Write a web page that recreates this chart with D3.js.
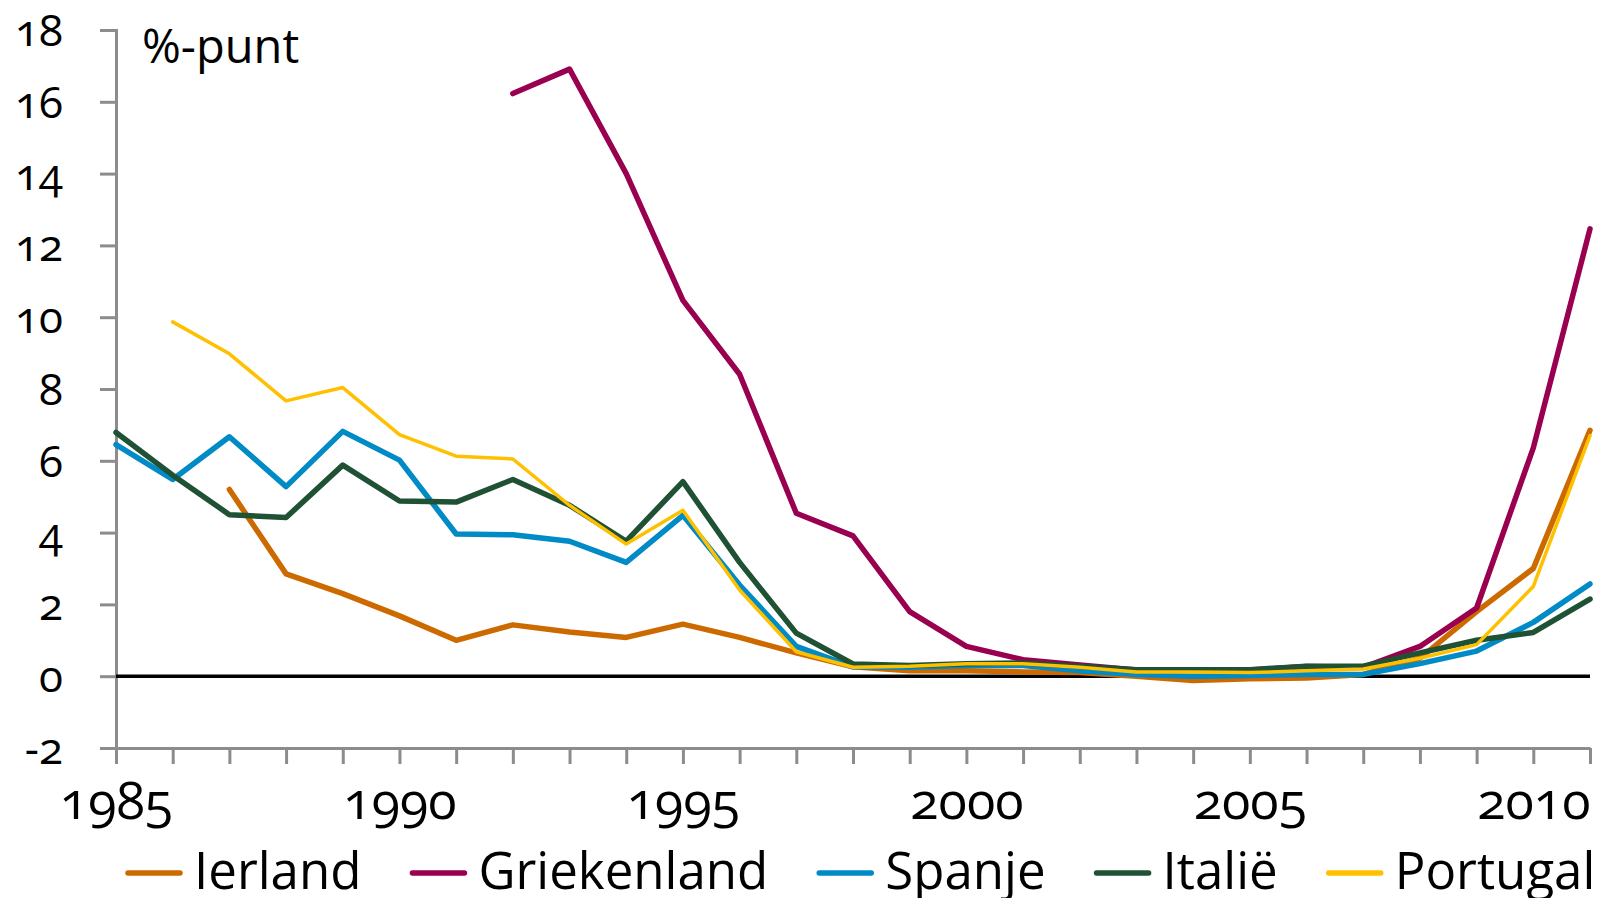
<!DOCTYPE html>
<html>
<head>
<meta charset="utf-8">
<script src="https://cdn.jsdelivr.net/npm/d3@7"></script>
<style>
	body { margin: 0; background: #fff; }
	svg text { font-family: "Open Sans", "Noto Sans", sans-serif; font-variant-numeric: oldstyle-nums; fill: #000; }
</style>
</head>
<body>
<div id="chart"></div>
<script>
const years = d3.range(1985, 2012);

// spreads in %-punt, null = no data
const ierland = [null, null, 5.2, 2.85, 2.3, 1.68, 1.0, 1.43, 1.23, 1.08, 1.45, 1.08, 0.65, 0.26, 0.15, 0.15, 0.12, 0.1, 0.0, -0.12, -0.07, -0.05, 0.05, 0.5, 1.8, 3.0, 6.85];
const griekenland = [null, null, null, null, null, null, null, 16.23, 16.91, 14.0, 10.47, 8.41, 4.54, 3.91, 1.8, 0.83, 0.46, 0.31, 0.17, 0.17, 0.17, 0.27, 0.25, 0.83, 1.9, 6.36, 12.46];
const spanje = [6.45, 5.48, 6.67, 5.28, 6.82, 6.02, 3.96, 3.94, 3.76, 3.17, 4.48, 2.54, 0.83, 0.26, 0.25, 0.3, 0.3, 0.15, 0.05, 0.0, 0.02, 0.05, 0.05, 0.35, 0.7, 1.5, 2.57];
const italie = [6.79, 5.6, 4.5, 4.42, 5.88, 4.88, 4.85, 5.48, 4.76, 3.76, 5.42, 3.17, 1.2, 0.34, 0.3, 0.35, 0.37, 0.28, 0.18, 0.18, 0.18, 0.28, 0.28, 0.65, 1.0, 1.22, 2.15];
const portugal = [null, 9.87, 8.98, 7.67, 8.04, 6.73, 6.13, 6.05, 4.76, 3.68, 4.62, 2.4, 0.68, 0.25, 0.28, 0.35, 0.35, 0.25, 0.12, 0.12, 0.1, 0.15, 0.2, 0.5, 0.88, 2.5, 6.7];

const seriesNames = ["Ierland", "Griekenland", "Spanje", "Italië", "Portugal"];
const seriesValues = [ierland, griekenland, spanje, italie, portugal];
const seriesColors = ["#cc6a00", "#99004f", "#008ac6", "#1f5134", "#ffc000"];
const seriesWidths = [5.5, 5.5, 5.5, 5.5, 3.5];

const yTicks = [-2, 0, 2, 4, 6, 8, 10, 12, 14, 16, 18];
const xLabels = [1985, 1990, 1995, 2000, 2005, 2010];
const unitLabel = "%-punt";

const width = 1604;
const height = 898;
const margin = { left: 116, right: 14, top: 30, bottom: 150 };

const svg = d3
	.select("#chart")
	.append("svg")
	.attr("width", width)
	.attr("height", height);

const x = d3.scaleLinear().domain([1985, 2011]).range([margin.left, width - margin.right]);
const y = d3.scaleLinear().domain([-2, 18]).range([height - margin.bottom, margin.top]);

// y axis
const yAxis = d3.axisLeft(y).tickValues(yTicks).tickSize(16).tickPadding(37).tickFormat(d => d < 0 ? "-" + Math.abs(d) : d);
const gy = svg.append("g").attr("transform", `translate(${margin.left},0)`).call(yAxis);
gy.select(".domain").attr("stroke", "#8c8c8c").attr("stroke-width", 3);
gy.selectAll(".tick line").attr("stroke", "#8c8c8c").attr("stroke-width", 3);
gy.selectAll(".tick text").style("font-size", "44px").attr("dy", "0.35em");

// x axis at -2
const xAxis = d3.axisBottom(x).tickValues(years).tickSize(16).tickSizeOuter(0).tickPadding(18)
	.tickFormat(d => xLabels.includes(d) ? d : "");
const gx = svg.append("g").attr("transform", `translate(0,${y(-2)})`).call(xAxis);
gx.select(".domain").attr("stroke", "#8c8c8c").attr("stroke-width", 3);
gx.selectAll(".tick line").attr("stroke", "#8c8c8c").attr("stroke-width", 3);
gx.selectAll(".tick text").style("font-size", "52px");

// zero line
svg.append("line")
	.attr("x1", x(1985)).attr("x2", x(2011))
	.attr("y1", y(0)).attr("y2", y(0))
	.attr("stroke", "#000").attr("stroke-width", 3.5);

svg.append("text")
	.attr("x", 142).attr("y", 63)
	.style("font-size", "47px")
	.text(unitLabel);

const line = d3.line()
	.defined(d => d.v !== null)
	.x(d => x(d.year))
	.y(d => y(d.v));

seriesValues.forEach((vals, i) => {
	svg.append("path")
		.datum(years.map((yr, j) => ({ year: yr, v: vals[j] })))
		.attr("fill", "none")
		.attr("stroke", seriesColors[i])
		.attr("stroke-width", seriesWidths[i])
		.attr("stroke-linejoin", "round")
		.attr("stroke-linecap", "round")
		.attr("d", line);
});

// legend
let lx = 128;
const ly = 873;
seriesNames.forEach((name, i) => {
	svg.append("line")
		.attr("x1", lx).attr("x2", lx + 52)
		.attr("y1", ly).attr("y2", ly)
		.attr("stroke", seriesColors[i])
		.attr("stroke-width", 5.5)
		.attr("stroke-linecap", "round");
	const t = svg.append("text")
		.attr("x", lx + 66).attr("y", 889)
		.style("font-size", "51px")
		.text(name);
	lx += 66 + t.node().getComputedTextLength() + 51;
});
</script>
</body>
</html>
